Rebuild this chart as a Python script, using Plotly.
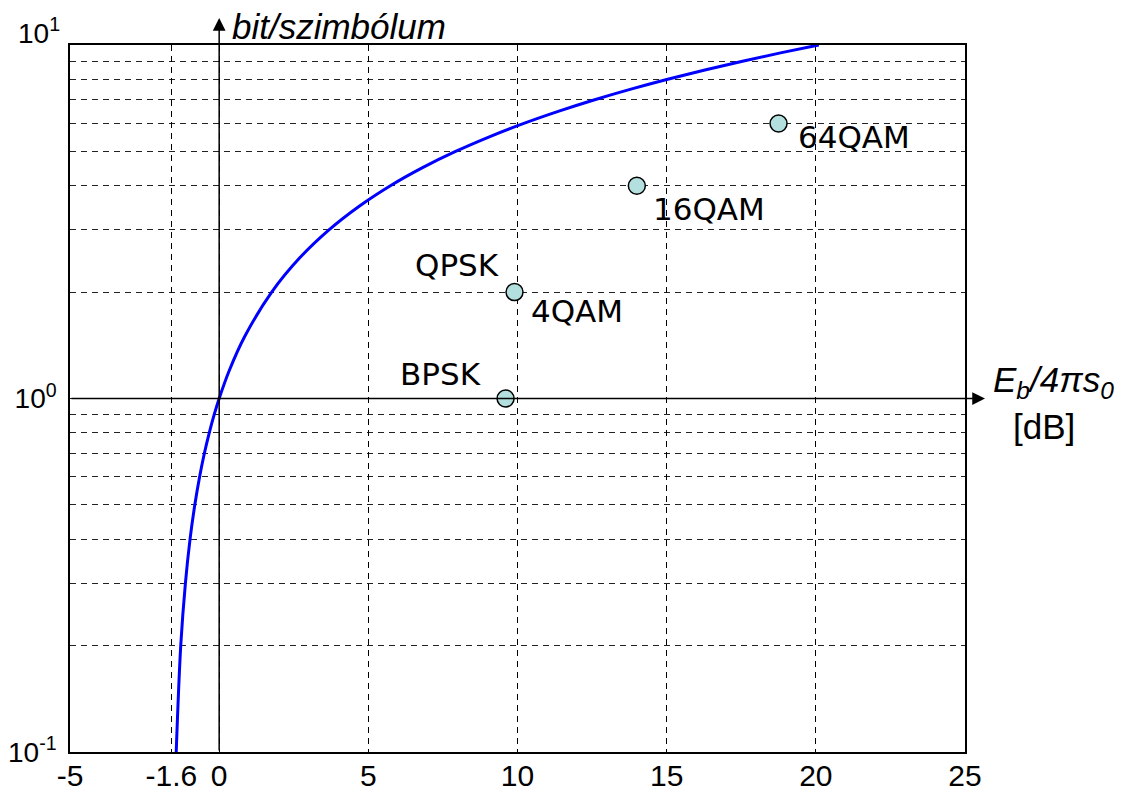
import math
import plotly.graph_objects as go

# Capacity curve: Eb/N0 [dB] vs bit/symbol
curve_db = [-1.440, -1.288, -1.132, -0.976, -0.817, -0.657, -0.496, -0.332, -0.167, 0.0,
            0.339, 0.860, 1.761, 2.701, 3.680, 4.694, 5.740, 6.818, 7.924, 9.056,
            10.212, 11.390, 12.587, 13.803, 15.034, 16.281, 17.542, 18.815, 20.099]
curve_bits = [0.1, 0.2, 0.3, 0.4, 0.5, 0.6, 0.7, 0.8, 0.9, 1.0,
              1.2, 1.5, 2.0, 2.5, 3.0, 3.5, 4.0, 4.5, 5.0, 5.5,
              6.0, 6.5, 7.0, 7.5, 8.0, 8.5, 9.0, 9.5, 10.0]

# Modulation points
mod_names = ["BPSK", "QPSK", "4QAM", "16QAM", "64QAM"]
mod_db = [9.6, 9.9, 14.0, 18.75]
mod_bits = [1, 2, 4, 6]

x_tickvals = [-5, -1.6, 0, 5, 10, 15, 20, 25]
x_ticktext = ["-5", "-1.6", "0", "5", "10", "15", "20", "25"]
y_tickvals = [0.1, 1]
y_ticktext = ["10<sup>-1</sup>", "10<sup>0</sup>"]
y_top_label = "10<sup>1</sup>"
y_minorvals = [0.2, 0.3, 0.4, 0.5, 0.6, 0.7, 0.8, 0.9,
               2, 3, 4, 5, 6, 7, 8, 9]

fig = go.Figure()
fig.add_trace(go.Scatter(x=curve_db, y=curve_bits, mode="lines",
                         line=dict(color="#0000ff", width=3, shape="spline"),
                         hoverinfo="skip", showlegend=False))
fig.add_trace(go.Scatter(x=mod_db, y=mod_bits, mode="markers",
                         marker=dict(size=17, color="#b3dfdf",
                                     line=dict(color="black", width=1.5)),
                         showlegend=False))

lab_font = dict(family="DejaVu Sans", size=31, color="black")
label_specs = [
    (0, 0, "right", -23, 25),
    (1, 1, "right", -14, 27),
    (2, 1, "left", 14, -19),
    (3, 2, "left", 14, -23),
    (4, 3, "left", 17, -14),
]
for n, i, anch, xs, ys in label_specs:
    fig.add_annotation(x=mod_db[i], y=math.log10(mod_bits[i]),
                       xref="x", yref="y", text=mod_names[n], showarrow=False,
                       xanchor=anch, yanchor="middle", xshift=xs, yshift=ys, font=lab_font)

# axis arrows
fig.add_annotation(x=0, xref="x", y=1 + 27 / 707, yref="paper", ax=0, ay=734,
                   axref="pixel", ayref="pixel", showarrow=True, arrowhead=2,
                   arrowsize=1.7, arrowwidth=1.5, arrowcolor="black", text="")
fig.add_annotation(x=1 + 20 / 895, xref="paper", y=0, yref="y", ax=-915, ay=0,
                   axref="pixel", ayref="pixel", showarrow=True, arrowhead=2,
                   arrowsize=1.7, arrowwidth=1.5, arrowcolor="black", text="")

fig.add_annotation(x=(230 - 70) / 895, xref="paper", y=1 + 19 / 707, yref="paper",
                   text="<i>bit/szimbólum</i>", showarrow=False, xanchor="left",
                   yanchor="middle", font=dict(family="Liberation Sans", size=35, color="black"))
fig.add_annotation(x=(1053 - 70) / 895, xref="paper", y=(752 - 382) / 707, yref="paper",
                   text="<i>E<sub>b</sub>/4πs<sub>0</sub></i>", showarrow=False,
                   xanchor="center", yanchor="middle",
                   font=dict(family="Liberation Sans", size=35, color="black"))
fig.add_annotation(x=(1044 - 70) / 895, xref="paper", y=(752 - 426) / 707, yref="paper",
                   text="[dB]", showarrow=False,
                   xanchor="center", yanchor="middle",
                   font=dict(family="Liberation Sans", size=35, color="black"))

# top decade label sits a little above the frame
fig.add_annotation(x=0, xref="paper", y=1, yref="y", text=y_top_label, showarrow=False,
                   xanchor="right", yanchor="middle", xshift=-8, yshift=14,
                   font=dict(family="Liberation Sans", size=28, color="black"))

grid_dash = "6px,5px"
fig.update_xaxes(range=[-5, 25], tickvals=x_tickvals, ticktext=x_ticktext,
                 showgrid=True, gridcolor="black", gridwidth=1, griddash=grid_dash,
                 zeroline=False, showline=True, linecolor="black", linewidth=1.5, mirror=True,
                 ticks="", ticklabelstandoff=-4, automargin=False,
                 tickfont=dict(family="Liberation Sans", size=30, color="black"))
fig.update_yaxes(type="log", range=[-1, 1], tickvals=y_tickvals, ticktext=y_ticktext,
                 showgrid=True, gridcolor="#222222", gridwidth=1, griddash=grid_dash,
                 minor=dict(tickvals=y_minorvals, showgrid=True, gridcolor="#222222",
                            gridwidth=1, griddash=grid_dash, ticks=""),
                 zeroline=False, showline=True, linecolor="black", linewidth=1.5, mirror=True,
                 ticks="", ticklabelstandoff=6, automargin=False,
                 tickfont=dict(family="Liberation Sans", size=28, color="black"))

# page body has an 8px margin, so the figure is shrunk by that amount
fig.update_layout(width=1115, height=784, margin=dict(l=62, r=158, t=37, b=40),
                  paper_bgcolor="white", plot_bgcolor="white", showlegend=False)

fig.write_html("out.html")
